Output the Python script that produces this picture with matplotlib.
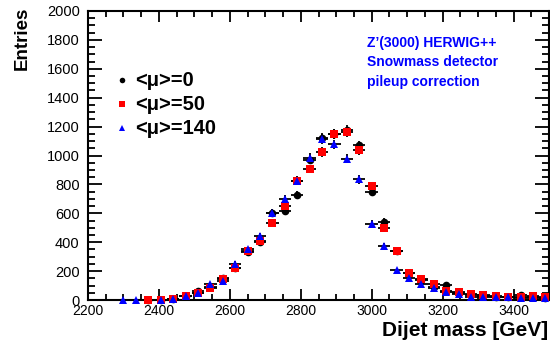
import numpy as np
import matplotlib
matplotlib.use("Agg")
import matplotlib.pyplot as plt

# ---- data ----
bin_centers = [2300 + 35 * k for k in range(35)]
bin_width = 35
mu0 = [0, 0, 2, 2, 8, 30, 62, 92, 150, 219, 335, 399, 604, 614, 729, 969, 1124,
       1147, 1178, 1070, 750, 541, 340, 187, 138, 92, 102, 46, 32, 28, 22, 20, 33, 18, 14]
mu50 = [0, 0, 3, 3, 6, 28, 51, 85, 148, 221, 341, 406, 531, 653, 825, 906, 1025,
        1150, 1160, 1036, 786, 500, 340, 190, 144, 113, 64, 52, 39, 37, 30, 23, 19, 26, 19]
mu140 = [1, 1, 0, 2, 8, 30, 46, 108, 131, 251, 351, 443, 602, 697, 826, 985, 1112,
         1077, 978, 835, 528, 374, 205, 154, 110, 86, 56, 41, 21, 23, 23, 21, 17, 15, 12]
labels = ["<\u03bc>=0", "<\u03bc>=50", "<\u03bc>=140"]
colors = ["black", "#ff0000", "#0000ff"]
markers = ["o", "s", "^"]
info_lines = ["Z\u2019(3000) HERWIG++", "Snowmass detector", "pileup correction"]
xticks = [2200, 2400, 2600, 2800, 3000, 3200, 3400]
yticks = list(range(0, 2001, 200))

plt.rcParams['font.family'] = ['Liberation Sans', 'DejaVu Sans']

W, H = 550, 344
fig = plt.figure(figsize=(W / 100, H / 100), dpi=100)
ax = fig.add_axes([88 / W, 1 - 300 / H, (549 - 88) / W, (300 - 11) / H])

x = np.array(bin_centers, dtype=float)
for vals, c, m in zip([mu0, mu50, mu140], colors, markers):
    v = np.array(vals, dtype=float)
    sel = v > 0
    ax.errorbar(x[sel], v[sel], yerr=np.sqrt(v[sel]), xerr=bin_width / 2,
                fmt='none', ecolor='black', elinewidth=1.3, capsize=0, zorder=2)
for vals, c, m in zip([mu0, mu50, mu140], colors, markers):
    v = np.array(vals, dtype=float)
    sel = v > 0
    ax.plot(x[sel], v[sel], linestyle='none', marker=m, color=c,
            markersize=5.5, markeredgewidth=0, zorder=3, clip_on=False)

ax.set_xlim(2200, 3500)
ax.set_ylim(0, 2000)
ax.set_xticks(xticks)
ax.set_yticks(yticks)
ax.set_xticks(np.arange(2200, 3501, 50), minor=True)
ax.set_yticks(np.arange(0, 2001, 50), minor=True)
ax.tick_params(which='both', direction='in', top=True, right=True, width=1.3)
ax.tick_params(axis='x', which='major', length=8, labelsize=10, pad=3)
ax.tick_params(axis='x', which='minor', length=4.5)
ax.tick_params(axis='y', which='major', length=10, labelsize=10.5, pad=6)
ax.tick_params(axis='y', which='minor', length=5)
for s in ax.spines.values():
    s.set_linewidth(1.5)

# legend (manual)
leg_y = [80, 104, 128]
for lab, c, m, yy in zip(labels, colors, markers, leg_y):
    ax.plot([122 / W], [1 - yy / H], transform=fig.transFigure, marker=m,
            color=c, markersize=4, markeredgewidth=0, linestyle='none', clip_on=False)
    fig.text(135 / W, 1 - yy / H, lab, fontsize=14.5, fontweight='bold',
             ha='left', va='center')

for i, t in enumerate(info_lines):
    fig.text(367 / W, 1 - (43 + 19.5 * i) / H, t, fontsize=10, fontweight='bold',
             color='#0000ff', ha='left', va='center')

fig.text(22 / W, 1 - 7 / H, "Entries", rotation=90, fontsize=13.5, fontweight='bold',
         ha='center', va='top')
fig.text(548 / W, 1 - 331 / H, "Dijet mass [GeV]", fontsize=15, fontweight='bold',
         ha='right', va='center')

fig.savefig("out.png", dpi=100)
